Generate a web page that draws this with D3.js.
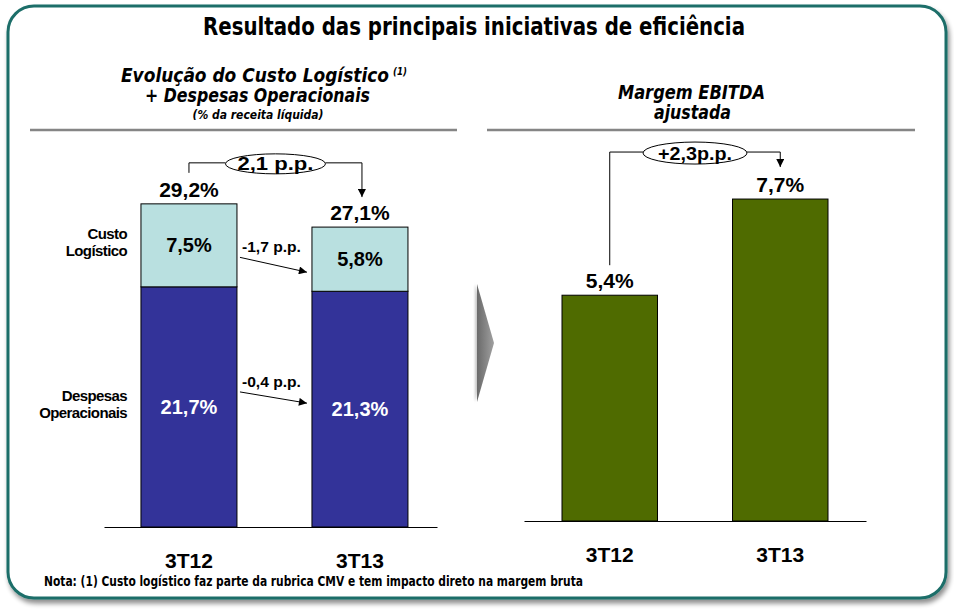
<!DOCTYPE html>
<html><head><meta charset="utf-8">
<script src="https://cdn.jsdelivr.net/npm/d3@7"></script>
<style>html,body{margin:0;padding:0;background:#fff;} svg{display:block}</style>
</head><body>
<svg id="chart" width="954" height="611"></svg>
<script>
// ---- data ----
const leftCategories = ["3T12", "3T13"];
const custoLogistico = [7.5, 5.8];
const despesasOperacionais = [21.7, 21.3];
const totalCustoDespesas = [29.2, 27.1];
const rightCategories = ["3T12", "3T13"];
const margemEbitda = [5.4, 7.7];
const seriesLabels = [["Custo", "Logístico"], ["Despesas", "Operacionais"]];
const leftTotalDelta = "2,1 p.p.";
const custoDelta = "-1,7 p.p.";
const despesasDelta = "-0,4 p.p.";
const ebitdaDelta = "+2,3p.p.";

const NARROW = '"Liberation Sans Narrow","Arial Narrow","DejaVu Sans Condensed",sans-serif';
const SANS = '"Liberation Sans",Arial,sans-serif';
const fmt = v => d3.format(".1f")(v).replace(".", ",") + "%";

const svg = d3.select("#chart");
const defs = svg.append("defs");

// shadow filter
const f = defs.append("filter").attr("id", "shadow").attr("x", "-5%").attr("y", "-5%").attr("width", "110%").attr("height", "115%");
f.append("feGaussianBlur").attr("in", "SourceAlpha").attr("stdDeviation", 2.5).attr("result", "b");
f.append("feOffset").attr("in", "b").attr("dx", 2).attr("dy", 4).attr("result", "o");
f.append("feComponentTransfer").attr("in", "o").attr("result", "o2").append("feFuncA").attr("type", "linear").attr("slope", 0.45);
const fm = f.append("feMerge");
fm.append("feMergeNode").attr("in", "o2");
fm.append("feMergeNode").attr("in", "SourceGraphic");

const cf = defs.append("filter").attr("id", "cshadow").attr("x", "-60%").attr("y", "-10%").attr("width", "220%").attr("height", "120%");
cf.append("feGaussianBlur").attr("in", "SourceGraphic").attr("stdDeviation", 1.2);

const g1 = defs.append("linearGradient").attr("id", "chev").attr("x1", 0).attr("x2", 1).attr("y1", 0).attr("y2", 0);
g1.append("stop").attr("offset", "0%").attr("stop-color", "#6a6a6a");
g1.append("stop").attr("offset", "100%").attr("stop-color", "#a0a0a0");

defs.append("marker").attr("id", "arr").attr("viewBox", "0 0 10 10").attr("refX", 10).attr("refY", 5)
  .attr("markerUnits", "userSpaceOnUse").attr("markerWidth", 9).attr("markerHeight", 8).attr("orient", "auto")
  .append("path").attr("d", "M0,0 L10,5 L0,10 z").attr("fill", "#000");

// outer frame
svg.append("rect").attr("x", 8).attr("y", 6).attr("width", 938).attr("height", 592).attr("rx", 26)
  .attr("fill", "#fff").attr("stroke", "#1d6e69").attr("stroke-width", 3).attr("filter", "url(#shadow)");

// title
svg.append("text").attr("x", 474).attr("y", 35).attr("text-anchor", "middle")
  .attr("font-family", NARROW).attr("font-weight", "bold").attr("font-size", 25)
  .attr("textLength", 542).attr("lengthAdjust", "spacingAndGlyphs")
  .text("Resultado das principais iniciativas de eficiência");

// subtitles
const sub = (x, y, t, size, len, anchor) => svg.append("text").attr("x", x).attr("y", y)
  .attr("text-anchor", anchor || "middle").attr("font-family", NARROW).attr("font-weight", "bold")
  .attr("font-style", "italic").attr("font-size", size).attr("textLength", len)
  .attr("lengthAdjust", "spacingAndGlyphs").text(t);
sub(121, 82, "Evolução do Custo Logístico", 19, 268, "start");
sub(393, 75, "(1)", 10, 14, "start");
sub(257.5, 102, "+ Despesas Operacionais", 19, 225);
sub(258, 119, "(% da receita líquida)", 12, 131);
sub(691.5, 99, "Margem EBITDA", 19, 147);
sub(692.5, 119, "ajustada", 19, 77);

svg.append("line").attr("x1", 30).attr("x2", 457).attr("y1", 130).attr("y2", 130).attr("stroke", "#858585").attr("stroke-width", 2.5);
svg.append("line").attr("x1", 487).attr("x2", 915).attr("y1", 130).attr("y2", 130).attr("stroke", "#858585").attr("stroke-width", 2.5);

// ---- left chart ----
const xL = d3.scaleBand().domain(leftCategories).range([104, 437])
  .paddingInner(0.4386).paddingOuter(0.193).align(0.56);
const yL = d3.scaleLinear().domain([0, 30]).range([527, 195]);
const rows = leftCategories.map((c, i) => ({ cat: c, despesas: despesasOperacionais[i], custo: custoLogistico[i] }));
const stack = d3.stack().keys(["despesas", "custo"])(rows);
const colors = { despesas: "#333399", custo: "#b9e0e0" };
const lbw = xL.bandwidth();

stack.forEach(layer => {
  svg.append("g").selectAll("rect").data(layer).join("rect")
    .attr("x", d => xL(d.data.cat)).attr("width", lbw)
    .attr("y", d => yL(d[1])).attr("height", d => yL(d[0]) - yL(d[1]))
    .attr("fill", colors[layer.key]).attr("stroke", "#000").attr("stroke-width", 1);
  svg.append("g").selectAll("text").data(layer).join("text")
    .attr("x", d => xL(d.data.cat) + lbw / 2).attr("y", d => (yL(d[0]) + yL(d[1])) / 2 + 7)
    .attr("text-anchor", "middle").attr("font-family", SANS).attr("font-weight", "bold").attr("font-size", 20)
    .attr("fill", layer.key === "despesas" ? "#fff" : "#000")
    .text(d => fmt(d[1] - d[0]));
});

// totals
svg.append("g").selectAll("text").data(totalCustoDespesas).join("text")
  .attr("x", (d, i) => xL(leftCategories[i]) + lbw / 2).attr("y", d => yL(d) - 7)
  .attr("text-anchor", "middle").attr("font-family", SANS).attr("font-weight", "bold").attr("font-size", 21)
  .text(d => fmt(d));

const axL = svg.append("g").attr("transform", "translate(0,527)")
  .call(d3.axisBottom(xL).tickSize(0).tickSizeOuter(0).tickPadding(26));
axL.select(".domain").attr("stroke", "#000");
axL.selectAll("text").attr("font-family", SANS).attr("font-weight", "bold").attr("font-size", 21).attr("fill", "#000");

// series side labels
const segMid = (k, i) => { const s = stack[k][i]; return (yL(s[0]) + yL(s[1])) / 2; };
[1, 0].forEach((k, j) => {
  const lines = seriesLabels[j];
  const yc = segMid(k, 0);
  lines.forEach((t, li) => svg.append("text").attr("x", 127).attr("y", yc - 6 + li * 17)
    .attr("text-anchor", "end").attr("font-family", SANS).attr("font-weight", "bold").attr("font-size", 15)
    .attr("letter-spacing", -0.6).text(t));
});

// segment change arrows
const x1e = xL(leftCategories[0]) + lbw, x2s = xL(leftCategories[1]);
const arrowAnn = (k, dy0, dy1, label) => {
  const ya = segMid(k, 0) + dy0, yb = segMid(k, 1) + dy1;
  svg.append("line").attr("x1", x1e + 3).attr("y1", ya).attr("x2", x2s - 5).attr("y2", yb)
    .attr("stroke", "#000").attr("stroke-width", 1).attr("marker-end", "url(#arr)");
  svg.append("text").attr("x", x1e + 5).attr("y", ya - 5).attr("font-family", SANS).attr("font-weight", "bold")
    .attr("font-size", 15).attr("textLength", 59).attr("lengthAdjust", "spacingAndGlyphs").text(label);
};
arrowAnn(1, 12, 13, custoDelta);
arrowAnn(0, -15, -6, despesasDelta);

// bracket annotation
function bracket(xa, ya, xb, yb, yTop, rx, ry, label, tlen) {
  const xm = (xa + xb) / 2;
  svg.append("path").attr("d", `M${xa},${ya}V${yTop}H${xm - rx}`).attr("fill", "none").attr("stroke", "#000").attr("stroke-width", 1);
  svg.append("path").attr("d", `M${xm + rx},${yTop}H${xb}V${yb}`).attr("fill", "none").attr("stroke", "#000").attr("stroke-width", 1).attr("marker-end", "url(#arr)");
  svg.append("ellipse").attr("cx", xm).attr("cy", yTop + 1).attr("rx", rx).attr("ry", ry).attr("fill", "#fff").attr("stroke", "#000").attr("stroke-width", 1);
  svg.append("text").attr("x", xm).attr("y", yTop + 7.5).attr("text-anchor", "middle").attr("font-family", SANS)
    .attr("font-weight", "bold").attr("font-size", 19).attr("textLength", tlen).attr("lengthAdjust", "spacingAndGlyphs").text(label);
}
const lc0 = xL(leftCategories[0]) + lbw / 2, lc1 = xL(leftCategories[1]) + lbw / 2;
bracket(lc0, yL(totalCustoDespesas[0]) - 31, lc1 + 2, yL(totalCustoDespesas[1]) - 30, yL(totalCustoDespesas[0]) - 41, 50, 10, leftTotalDelta, 76);

// chevron
const chev = [[477, 284], [494, 343], [477, 402]];
svg.append("polygon").attr("points", chev.map(p => [p[0] - 2, p[1]].join(",")).join(" ")).attr("fill", "#c8c8c8").attr("filter", "url(#cshadow)");
svg.append("polygon").attr("points", chev.map(p => p.join(",")).join(" ")).attr("fill", "url(#chev)");

// ---- right chart ----
const xR = d3.scaleBand().domain(rightCategories).range([524, 866]).paddingInner(0.44).paddingOuter(0.2229);
const yR = d3.scaleLinear().domain([0, 8]).range([521, 186.5]);
const rbw = xR.bandwidth();
svg.append("g").selectAll("rect").data(margemEbitda).join("rect")
  .attr("x", (d, i) => xR(rightCategories[i])).attr("width", rbw)
  .attr("y", d => yR(d)).attr("height", d => yR(0) - yR(d))
  .attr("fill", "#4f6b00").attr("stroke", "#000").attr("stroke-width", 1);
svg.append("g").selectAll("text").data(margemEbitda).join("text")
  .attr("x", (d, i) => xR(rightCategories[i]) + rbw / 2).attr("y", d => yR(d) - 7)
  .attr("text-anchor", "middle").attr("font-family", SANS).attr("font-weight", "bold").attr("font-size", 21)
  .text(d => fmt(d));
const axR = svg.append("g").attr("transform", "translate(0,521)")
  .call(d3.axisBottom(xR).tickSize(0).tickSizeOuter(0).tickPadding(26));
axR.select(".domain").attr("stroke", "#000");
axR.selectAll("text").attr("font-family", SANS).attr("font-weight", "bold").attr("font-size", 21).attr("fill", "#000");

const rc0 = xR(rightCategories[0]) + rbw / 2, rc1 = xR(rightCategories[1]) + rbw / 2;
bracket(rc0, yR(margemEbitda[0]) - 30, rc1, yR(margemEbitda[1]) - 32, yR(d3.max(margemEbitda)) - 47, 52, 11, ebitdaDelta, 74);

// footnote
svg.append("text").attr("x", 44).attr("y", 586).attr("font-family", NARROW).attr("font-weight", "bold")
  .attr("font-size", 14).attr("textLength", 539).attr("lengthAdjust", "spacingAndGlyphs")
  .text("Nota: (1) Custo logístico faz parte da rubrica CMV e tem impacto direto na margem bruta");
</script>
</body></html>
